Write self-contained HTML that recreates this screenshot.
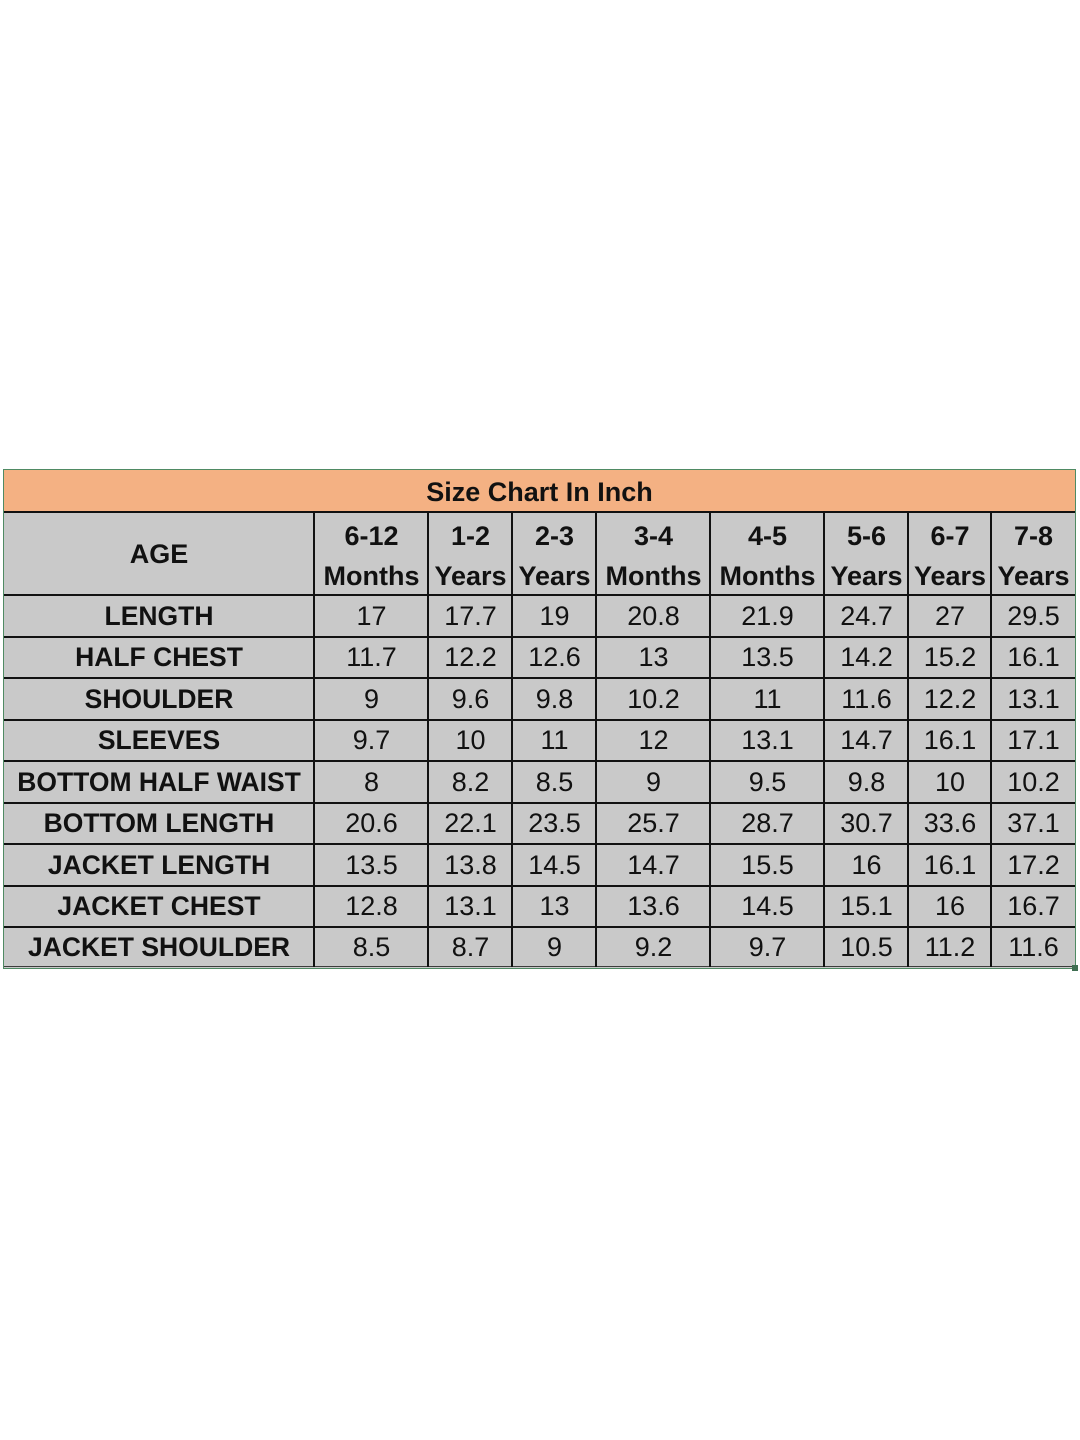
<!DOCTYPE html>
<html>
<head>
<meta charset="utf-8">
<style>
html,body{margin:0;padding:0;background:#fff;}
body{width:1080px;height:1440px;position:relative;overflow:hidden;font-family:"Liberation Sans",Arial,sans-serif;color:#111;}
.abs{position:absolute;}
.box{position:absolute;left:3px;top:469px;width:1071px;height:498px;border:1px solid #4f8a63;background:#c9c9c9;}
.title{position:absolute;left:4px;top:470px;width:1071px;height:41px;background:#f4b183;}
.h{position:absolute;background:#111;height:2px;}
.v{position:absolute;background:#111;width:2px;}
.t{position:absolute;display:flex;align-items:center;justify-content:center;font-size:27px;white-space:nowrap;line-height:1;}
.b{font-weight:bold;}
.lbl{font-weight:bold;font-size:26.5px;}
</style>
</head>
<body>
<div class="box"></div>
<div class="title"></div>
<div class="t b" style="left:4px;top:472px;width:1071px;height:40px;">Size Chart In Inch</div>

<!-- horizontal lines -->
<div class="h" style="left:4px;top:511px;width:1071px;"></div>
<div class="h" style="left:4px;top:594px;width:1071px;"></div>
<div class="h" style="left:4px;top:635.5px;width:1071px;"></div>
<div class="h" style="left:4px;top:677px;width:1071px;"></div>
<div class="h" style="left:4px;top:718.5px;width:1071px;"></div>
<div class="h" style="left:4px;top:760px;width:1071px;"></div>
<div class="h" style="left:4px;top:801.5px;width:1071px;"></div>
<div class="h" style="left:4px;top:843px;width:1071px;"></div>
<div class="h" style="left:4px;top:884.5px;width:1071px;"></div>
<div class="h" style="left:4px;top:926px;width:1071px;"></div>
<div class="h" style="left:4px;top:966px;width:1071px;background:#3d3d3d;height:1px;"></div>

<!-- vertical lines -->
<div class="v" style="left:313px;top:512px;height:455px;"></div>
<div class="v" style="left:427px;top:512px;height:455px;"></div>
<div class="v" style="left:511px;top:512px;height:455px;"></div>
<div class="v" style="left:595px;top:512px;height:455px;"></div>
<div class="v" style="left:709px;top:512px;height:455px;"></div>
<div class="v" style="left:823px;top:512px;height:455px;"></div>
<div class="v" style="left:907px;top:512px;height:455px;"></div>
<div class="v" style="left:990px;top:512px;height:455px;"></div>

<div class="abs" style="left:1072px;top:965px;width:6px;height:6px;background:#3f6e52;"></div>

<!-- header -->
<div class="t b" style="left:4px;top:513px;width:310px;height:82px;">AGE</div>
<div class="t b" style="left:315px;top:516px;width:113px;height:40px;">6-12</div>
<div class="t b" style="left:315px;top:556px;width:113px;height:40px;">Months</div>
<div class="t b" style="left:429px;top:516px;width:83px;height:40px;">1-2</div>
<div class="t b" style="left:429px;top:556px;width:83px;height:40px;">Years</div>
<div class="t b" style="left:513px;top:516px;width:83px;height:40px;">2-3</div>
<div class="t b" style="left:513px;top:556px;width:83px;height:40px;">Years</div>
<div class="t b" style="left:597px;top:516px;width:113px;height:40px;">3-4</div>
<div class="t b" style="left:597px;top:556px;width:113px;height:40px;">Months</div>
<div class="t b" style="left:711px;top:516px;width:113px;height:40px;">4-5</div>
<div class="t b" style="left:711px;top:556px;width:113px;height:40px;">Months</div>
<div class="t b" style="left:825px;top:516px;width:83px;height:40px;">5-6</div>
<div class="t b" style="left:825px;top:556px;width:83px;height:40px;">Years</div>
<div class="t b" style="left:909px;top:516px;width:82px;height:40px;">6-7</div>
<div class="t b" style="left:909px;top:556px;width:82px;height:40px;">Years</div>
<div class="t b" style="left:992px;top:516px;width:83px;height:40px;">7-8</div>
<div class="t b" style="left:992px;top:556px;width:83px;height:40px;">Years</div>

<!-- rows -->
<div id="rows"></div>
<div class="t lbl" style="left:4px;top:596px;width:310px;height:40px;">LENGTH</div>
<div class="t lbl" style="left:4px;top:637.5px;width:310px;height:40px;">HALF CHEST</div>
<div class="t lbl" style="left:4px;top:679px;width:310px;height:40px;">SHOULDER</div>
<div class="t lbl" style="left:4px;top:720.5px;width:310px;height:40px;">SLEEVES</div>
<div class="t lbl" style="left:4px;top:762px;width:310px;height:40px;">BOTTOM HALF WAIST</div>
<div class="t lbl" style="left:4px;top:803.5px;width:310px;height:40px;">BOTTOM LENGTH</div>
<div class="t lbl" style="left:4px;top:845px;width:310px;height:40px;">JACKET LENGTH</div>
<div class="t lbl" style="left:4px;top:886.5px;width:310px;height:40px;">JACKET CHEST</div>
<div class="t lbl" style="left:4px;top:928px;width:310px;height:39px;">JACKET SHOULDER</div>

<!-- data: columns x/w -->
<!-- row 1 -->
<div class="t" style="left:315px;top:596px;width:113px;height:40px;">17</div>
<div class="t" style="left:429px;top:596px;width:83px;height:40px;">17.7</div>
<div class="t" style="left:513px;top:596px;width:83px;height:40px;">19</div>
<div class="t" style="left:597px;top:596px;width:113px;height:40px;">20.8</div>
<div class="t" style="left:711px;top:596px;width:113px;height:40px;">21.9</div>
<div class="t" style="left:825px;top:596px;width:83px;height:40px;">24.7</div>
<div class="t" style="left:909px;top:596px;width:82px;height:40px;">27</div>
<div class="t" style="left:992px;top:596px;width:83px;height:40px;">29.5</div>
<!-- row 2 -->
<div class="t" style="left:315px;top:637.5px;width:113px;height:40px;">11.7</div>
<div class="t" style="left:429px;top:637.5px;width:83px;height:40px;">12.2</div>
<div class="t" style="left:513px;top:637.5px;width:83px;height:40px;">12.6</div>
<div class="t" style="left:597px;top:637.5px;width:113px;height:40px;">13</div>
<div class="t" style="left:711px;top:637.5px;width:113px;height:40px;">13.5</div>
<div class="t" style="left:825px;top:637.5px;width:83px;height:40px;">14.2</div>
<div class="t" style="left:909px;top:637.5px;width:82px;height:40px;">15.2</div>
<div class="t" style="left:992px;top:637.5px;width:83px;height:40px;">16.1</div>
<!-- row 3 -->
<div class="t" style="left:315px;top:679px;width:113px;height:40px;">9</div>
<div class="t" style="left:429px;top:679px;width:83px;height:40px;">9.6</div>
<div class="t" style="left:513px;top:679px;width:83px;height:40px;">9.8</div>
<div class="t" style="left:597px;top:679px;width:113px;height:40px;">10.2</div>
<div class="t" style="left:711px;top:679px;width:113px;height:40px;">11</div>
<div class="t" style="left:825px;top:679px;width:83px;height:40px;">11.6</div>
<div class="t" style="left:909px;top:679px;width:82px;height:40px;">12.2</div>
<div class="t" style="left:992px;top:679px;width:83px;height:40px;">13.1</div>
<!-- row 4 -->
<div class="t" style="left:315px;top:720.5px;width:113px;height:40px;">9.7</div>
<div class="t" style="left:429px;top:720.5px;width:83px;height:40px;">10</div>
<div class="t" style="left:513px;top:720.5px;width:83px;height:40px;">11</div>
<div class="t" style="left:597px;top:720.5px;width:113px;height:40px;">12</div>
<div class="t" style="left:711px;top:720.5px;width:113px;height:40px;">13.1</div>
<div class="t" style="left:825px;top:720.5px;width:83px;height:40px;">14.7</div>
<div class="t" style="left:909px;top:720.5px;width:82px;height:40px;">16.1</div>
<div class="t" style="left:992px;top:720.5px;width:83px;height:40px;">17.1</div>
<!-- row 5 -->
<div class="t" style="left:315px;top:762px;width:113px;height:40px;">8</div>
<div class="t" style="left:429px;top:762px;width:83px;height:40px;">8.2</div>
<div class="t" style="left:513px;top:762px;width:83px;height:40px;">8.5</div>
<div class="t" style="left:597px;top:762px;width:113px;height:40px;">9</div>
<div class="t" style="left:711px;top:762px;width:113px;height:40px;">9.5</div>
<div class="t" style="left:825px;top:762px;width:83px;height:40px;">9.8</div>
<div class="t" style="left:909px;top:762px;width:82px;height:40px;">10</div>
<div class="t" style="left:992px;top:762px;width:83px;height:40px;">10.2</div>
<!-- row 6 -->
<div class="t" style="left:315px;top:803.5px;width:113px;height:40px;">20.6</div>
<div class="t" style="left:429px;top:803.5px;width:83px;height:40px;">22.1</div>
<div class="t" style="left:513px;top:803.5px;width:83px;height:40px;">23.5</div>
<div class="t" style="left:597px;top:803.5px;width:113px;height:40px;">25.7</div>
<div class="t" style="left:711px;top:803.5px;width:113px;height:40px;">28.7</div>
<div class="t" style="left:825px;top:803.5px;width:83px;height:40px;">30.7</div>
<div class="t" style="left:909px;top:803.5px;width:82px;height:40px;">33.6</div>
<div class="t" style="left:992px;top:803.5px;width:83px;height:40px;">37.1</div>
<!-- row 7 -->
<div class="t" style="left:315px;top:845px;width:113px;height:40px;">13.5</div>
<div class="t" style="left:429px;top:845px;width:83px;height:40px;">13.8</div>
<div class="t" style="left:513px;top:845px;width:83px;height:40px;">14.5</div>
<div class="t" style="left:597px;top:845px;width:113px;height:40px;">14.7</div>
<div class="t" style="left:711px;top:845px;width:113px;height:40px;">15.5</div>
<div class="t" style="left:825px;top:845px;width:83px;height:40px;">16</div>
<div class="t" style="left:909px;top:845px;width:82px;height:40px;">16.1</div>
<div class="t" style="left:992px;top:845px;width:83px;height:40px;">17.2</div>
<!-- row 8 -->
<div class="t" style="left:315px;top:886.5px;width:113px;height:40px;">12.8</div>
<div class="t" style="left:429px;top:886.5px;width:83px;height:40px;">13.1</div>
<div class="t" style="left:513px;top:886.5px;width:83px;height:40px;">13</div>
<div class="t" style="left:597px;top:886.5px;width:113px;height:40px;">13.6</div>
<div class="t" style="left:711px;top:886.5px;width:113px;height:40px;">14.5</div>
<div class="t" style="left:825px;top:886.5px;width:83px;height:40px;">15.1</div>
<div class="t" style="left:909px;top:886.5px;width:82px;height:40px;">16</div>
<div class="t" style="left:992px;top:886.5px;width:83px;height:40px;">16.7</div>
<!-- row 9 -->
<div class="t" style="left:315px;top:928px;width:113px;height:39px;">8.5</div>
<div class="t" style="left:429px;top:928px;width:83px;height:39px;">8.7</div>
<div class="t" style="left:513px;top:928px;width:83px;height:39px;">9</div>
<div class="t" style="left:597px;top:928px;width:113px;height:39px;">9.2</div>
<div class="t" style="left:711px;top:928px;width:113px;height:39px;">9.7</div>
<div class="t" style="left:825px;top:928px;width:83px;height:39px;">10.5</div>
<div class="t" style="left:909px;top:928px;width:82px;height:39px;">11.2</div>
<div class="t" style="left:992px;top:928px;width:83px;height:39px;">11.6</div>
</body>
</html>
